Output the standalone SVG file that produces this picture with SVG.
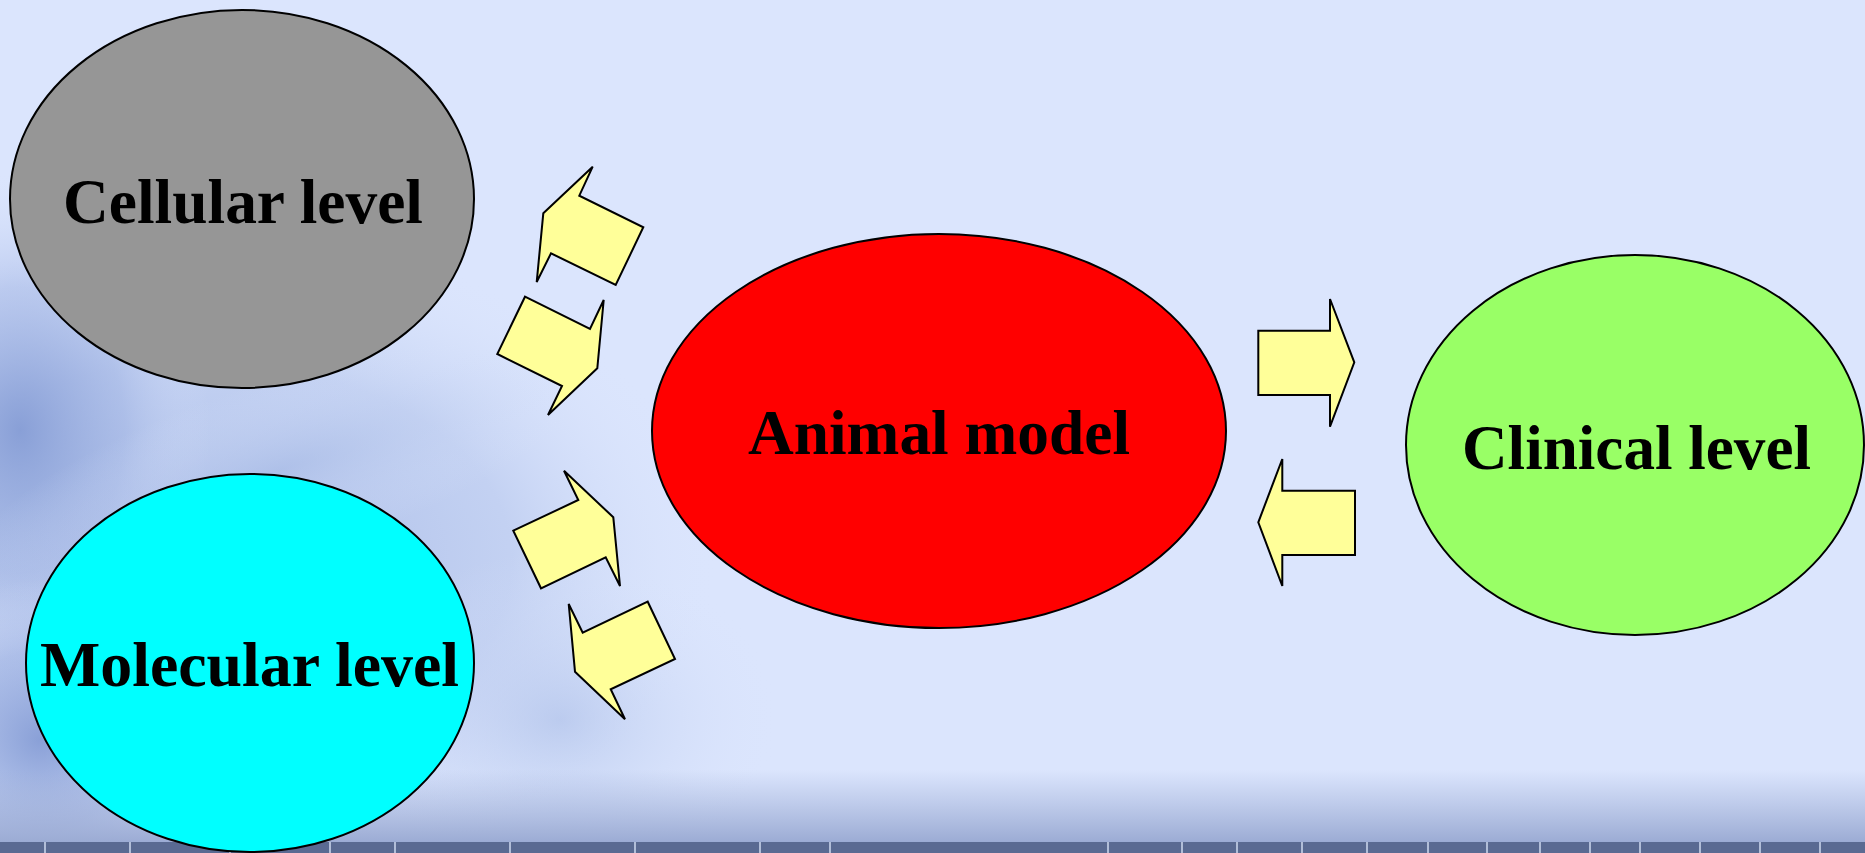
<svg xmlns="http://www.w3.org/2000/svg" width="1865" height="853" viewBox="0 0 1865 853">
<defs>
<linearGradient id="bottomFade" x1="0" y1="0" x2="0" y2="1">
<stop offset="0" stop-color="#9eaed6" stop-opacity="0"/>
<stop offset="1" stop-color="#9aaad3" stop-opacity="1"/>
</linearGradient>
<radialGradient id="leftEdge" cx="0.5" cy="0.5" r="0.5">
<stop offset="0" stop-color="#7f97d2" stop-opacity="0.85"/>
<stop offset="0.55" stop-color="#9cb0e1" stop-opacity="0.5"/>
<stop offset="1" stop-color="#dbe5fd" stop-opacity="0"/>
</radialGradient>
<radialGradient id="photoL" cx="0.5" cy="0.5" r="0.5">
<stop offset="0" stop-color="#93a9dc" stop-opacity="0.75"/>
<stop offset="0.6" stop-color="#a6b9e5" stop-opacity="0.45"/>
<stop offset="1" stop-color="#dbe5fc" stop-opacity="0"/>
</radialGradient>
<radialGradient id="photoM" cx="0.5" cy="0.5" r="0.5">
<stop offset="0" stop-color="#a9bce6" stop-opacity="0.6"/>
<stop offset="1" stop-color="#dbe5fc" stop-opacity="0"/>
</radialGradient>
<style>
.node{stroke:#000;stroke-width:2}
.lbl{font-family:"Liberation Serif","Times New Roman",serif;font-weight:bold;font-size:64px;fill:#000}
.arrow{fill:#ffff99;stroke:#000;stroke-width:2;stroke-linejoin:miter}
</style>
</defs>
<g id="background">
<rect x="0" y="0" width="1865" height="853" fill="#dbe5fd"/>
<ellipse cx="200" cy="560" rx="520" ry="330" fill="url(#photoL)"/>
<ellipse cx="20" cy="430" rx="190" ry="260" fill="url(#leftEdge)"/>
<ellipse cx="40" cy="740" rx="170" ry="160" fill="url(#leftEdge)"/>
<ellipse cx="560" cy="720" rx="220" ry="170" fill="url(#photoM)"/>
<ellipse cx="280" cy="470" rx="330" ry="90" fill="url(#photoM)" transform="rotate(-18 280 470)"/>
<rect x="0" y="770" width="1865" height="74" fill="url(#bottomFade)"/>
<rect x="0" y="842" width="1865" height="11" fill="#5a6a92"/>
<g stroke="#c9d3ea" stroke-width="2" opacity="0.8">
<path d="M45 842v11M130 842v11M230 842v11M330 842v11M395 842v11M510 842v11M635 842v11M760 842v11M830 842v11M1108 842v11M1182 842v11M1237 842v11M1302 842v11M1367 842v11M1428 842v11M1487 842v11M1540 842v11M1590 842v11M1640 842v11M1700 842v11M1760 842v11M1820 842v11"/>
</g>
</g>
<g id="node-cellular">
<ellipse class="node" cx="242" cy="199" rx="232" ry="189" fill="#969696"/>
<text class="lbl" x="63" y="223" font-size="66" textLength="360" lengthAdjust="spacingAndGlyphs">Cellular level</text>
</g>
<g id="node-molecular">
<ellipse class="node" cx="250" cy="663" rx="224" ry="189" fill="#00ffff"/>
<text class="lbl" x="40" y="686" textLength="419" lengthAdjust="spacingAndGlyphs">Molecular level</text>
</g>
<g id="node-animal">
<ellipse class="node" cx="939" cy="431" rx="287" ry="197" fill="#ff0000"/>
<text class="lbl" x="748" y="454" textLength="382" lengthAdjust="spacingAndGlyphs">Animal model</text>
</g>
<g id="node-clinical">
<ellipse class="node" cx="1635" cy="445" rx="229" ry="190" fill="#99ff66"/>
<text class="lbl" x="1462" y="469" textLength="349" lengthAdjust="spacingAndGlyphs">Clinical level</text>
</g>
<g id="connectors">
<polygon class="arrow" points="592.7,166.7 579.3,195.7 643.3,227.3 615.7,285 551,253.3 536.7,282 543.3,213.3"/>
<polygon class="arrow" points="525,296.7 590,329 603.7,300 597.3,368.3 548,415 562,386 497.3,354"/>
<polygon class="arrow" points="513.3,530.7 578.3,500 564,470.7 613.3,517.3 620,586 605.7,557.3 541,588.3"/>
<polygon class="arrow" points="568.7,604 582.7,632.7 647.7,601.7 675,659 610.7,689.3 625,719.3 575,671.7"/>
<polygon class="arrow" points="1258.3,330.7 1330,330.7 1330,299 1354.3,362.3 1330,426.7 1330,395 1258.3,395"/>
<polygon class="arrow" points="1355,490.7 1282.3,490.7 1282.3,459 1258.3,522.3 1282.3,586 1282.3,555 1355,555"/>
</g>
</svg>
